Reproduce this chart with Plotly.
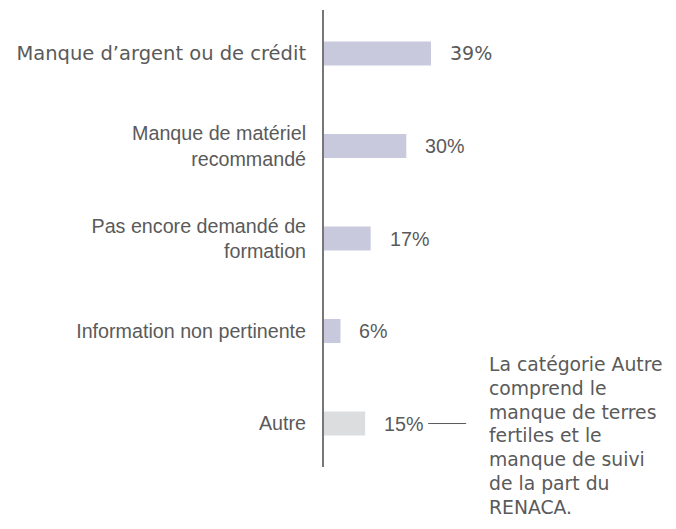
import plotly.graph_objects as go

categories = ["Manque d’argent ou de crédit", "Manque de matériel<br>recommandé",
              "Pas encore demandé de<br>formation", "Information non pertinente", "Autre"]
values = [39, 30, 17, 6, 15]
value_labels = ["39%", "30%", "17%", "6%", "15%"]
bar_colors = ["#c8c9dc", "#c8c9dc", "#c8c9dc", "#c8c9dc", "#dcdddf"]
note_lines = ["La catégorie Autre", "comprend le", "manque de terres", "fertiles et le",
              "manque de suivi", "de la part du", "RENACA."]

ARIAL = "Liberation Sans, Arial, sans-serif"
WIDE = "DejaVu Sans, Verdana, sans-serif"
TXT = "#5a5a5a"
FS = 19.7

tick_text = [f'<span style="font-family:{WIDE};font-size:19.5px">{categories[0]}</span>'] + categories[1:]
label_fonts = [WIDE, ARIAL, ARIAL, ARIAL, ARIAL]
label_sizes = [19, FS, FS, FS, FS]

fig = go.Figure(go.Bar(
    x=values, y=categories, orientation="h",
    marker=dict(color=bar_colors, line=dict(width=0)),
    width=0.26, hoverinfo="skip",
))

for cat, v, lab, fnt, fsz in zip(categories, values, value_labels, label_fonts, label_sizes):
    fig.add_annotation(x=v, y=cat, xref="x", yref="y", text=lab, showarrow=False,
                       xanchor="left", xshift=17, font=dict(size=fsz, color=TXT, family=fnt))

# connector line next to the "Autre" label
fig.add_shape(type="line", xref="x", yref="y", xsizemode="pixel", xanchor=values[-1],
              x0=63, x1=101, y0=categories[-1], y1=categories[-1],
              line=dict(color="#5a5a5a", width=1))

for i, line in enumerate(note_lines):
    fig.add_annotation(x=values[-1], y=categories[-1], xref="x", yref="y", text=line,
                       showarrow=False, xanchor="left", yanchor="middle", align="left",
                       xshift=122, yshift=59 - 23.8 * i,
                       font=dict(size=18.8, color=TXT, family=WIDE))

fig.update_layout(
    width=668, height=521,
    margin=dict(l=316, r=20, t=2, b=62),
    paper_bgcolor="white", plot_bgcolor="white",
    showlegend=False,
    font=dict(family=ARIAL, size=FS, color=TXT),
)
fig.update_xaxes(range=[0, 121], visible=False, showgrid=False, zeroline=False)
fig.update_yaxes(type="category", range=[4.47, -0.47], showgrid=False, zeroline=False,
                 showline=True, linecolor="#777777", linewidth=2, ticks="",
                 tickvals=categories, ticktext=tick_text,
                 ticklabelstandoff=12, tickfont=dict(size=FS, color=TXT, family=ARIAL))

fig.write_html("out.html")
